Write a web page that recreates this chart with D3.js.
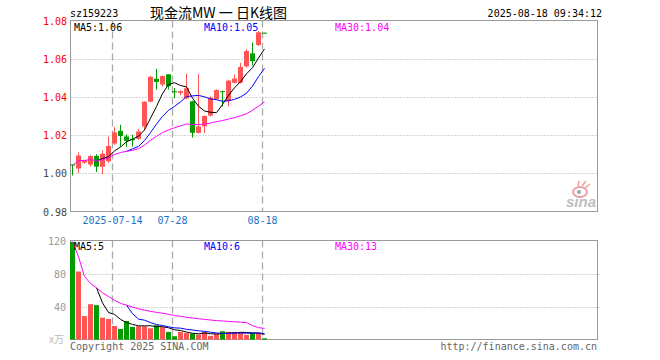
<!DOCTYPE html>
<html>
<head>
<meta charset="utf-8">
<script src="https://cdn.jsdelivr.net/npm/d3@7"></script>
<style>
  body { margin: 0; background: #fff; }
  text { font-family: 'DejaVu Sans Mono', monospace; font-size: 10px; }
</style>
</head>
<body>
<svg width="660" height="360"></svg>
<script>
// daily bars, 2025-07-03 .. 2025-08-18
const dates = ['07-03','07-04','07-07','07-08','07-09','07-10','07-11','07-14','07-15','07-16',
  '07-17','07-18','07-21','07-22','07-23','07-24','07-25','07-28','07-29','07-30','07-31',
  '08-01','08-04','08-05','08-06','08-07','08-08','08-11','08-12','08-13','08-14','08-15','08-18'];
const opens  = [1.0046,1.0025,1.0056,1.0046,1.0091,1.0034,1.0063,1.0156,1.0222,1.0193,1.0180,
  1.0181,1.0245,1.0375,1.0495,1.0465,1.0518,1.0430,1.0421,1.0392,1.0377,1.0212,1.0246,1.0302,
  1.0388,1.0430,1.0378,1.0474,1.0474,1.0560,1.0628,1.0672,1.0736];
const highs  = [1.0046,1.0110,1.0072,1.0095,1.0100,1.0120,1.0192,1.0243,1.0254,1.0204,1.0202,
  1.0233,1.0377,1.0510,1.0547,1.0512,1.0518,1.0446,1.0434,1.0522,1.0380,1.0520,1.0303,1.0403,
  1.0440,1.0433,1.0490,1.0517,1.0578,1.0650,1.0685,1.0745,1.0736];
const lows   = [0.9989,1.0001,1.0050,1.0035,1.0007,0.9997,1.0053,1.0149,1.0140,1.0138,1.0140,
  1.0175,1.0226,1.0372,1.0438,1.0456,1.0439,1.0393,1.0408,1.0388,1.0187,1.0209,1.0210,1.0298,
  1.0385,1.0350,1.0350,1.0470,1.0470,1.0553,1.0565,1.0665,1.0734];
const closes = [1.0041,1.0093,1.0067,1.0090,1.0035,1.0102,1.0143,1.0214,1.0195,1.0170,1.0173,
  1.0219,1.0375,1.0505,1.0478,1.0509,1.0456,1.0424,1.0430,1.0445,1.0212,1.0245,1.0300,1.0395,
  1.0436,1.0426,1.0485,1.0496,1.0557,1.0640,1.0587,1.0738,1.0735];
// volume, 万
const volumes = [118.4,82.4,28.4,42.8,41.6,26.4,24.8,16.4,12.8,22.4,15.2,16,16,13.6,17.2,15,
  9.2,4,9.2,8,7.2,6,9.2,4.4,6.8,10,9.2,9.2,8.4,5.6,8,8,1.5];

const priceTicks = [0.98,1.00,1.02,1.04,1.06,1.08];
const priceTickColors = ['#444','#444','#f00','#f00','#f00','#f00'];
const volTicks = [40,80,120];
const dateTicks = ['07-14','07-28','08-18'];
const dateTickLabels = ['2025-07-14','07-28','08-18'];
const maPeriods = [5,10,30];
const maColors = ['#000','#00f','#f0f'];
const priceMaLabels = ['MA5:1.06','MA10:1.05','MA30:1.04'];
const volMaLabels = ['MA5:5','MA10:6','MA30:13'];

const up = '#ff5555';
const down = '#009c00';

const svg = d3.select('svg');

const left = 70.5, right = 597.5;

const x = d3.scalePoint()
    .domain(dates)
    .range([72.5, 264.5]);

const y = d3.scaleLinear()
    .domain([0.98, 1.08])
    .range([211.5, 20.5]);

const yv = d3.scaleLinear()
    .domain([0, 120])
    .range([339.5, 240.5]);

const px = v => Math.round(v) + 0.5;

// moving average; the 30 day one runs as a cumulative mean until 30 days exist
function ma(values, n) {
  return values.map((v, i) => {
    if (i < n - 1 && n < 30) return null;
    const s = values.slice(Math.max(0, i - n + 1), i + 1);
    return d3.mean(s);
  });
}

// ---------- header ----------
svg.append('text')
    .attr('x', 70).attr('y', 17)
    .text('sz159223');

svg.append('text')
    .attr('x', 150).attr('y', 18)
    .style('font-family', '"Noto Sans CJK SC", sans-serif')
    .style('font-size', '14px')
    .text('现金流MW 一 日K线图');

svg.append('text')
    .attr('x', 602).attr('y', 17)
    .attr('text-anchor', 'end')
    .text('2025-08-18 09:34:12');

// ---------- grid ----------
const gridG = svg.append('g');

gridG.selectAll('.hgrid')
  .data(priceTicks.slice(1, -1))
  .enter().append('line')
    .attr('x1', left).attr('x2', right)
    .attr('y1', d => px(y(d))).attr('y2', d => px(y(d)))
    .attr('stroke', '#aaa')
    .attr('stroke-dasharray', '1,2');

gridG.selectAll('.vgrid')
  .data(volTicks.slice(0, -1))
  .enter().append('line')
    .attr('x1', left).attr('x2', right + 2)
    .attr('y1', d => px(yv(d))).attr('y2', d => px(yv(d)))
    .attr('stroke', '#aaa')
    .attr('stroke-dasharray', '1,2');

dateTicks.forEach(d => {
  [[y.range()[1], y.range()[0]], [yv.range()[1], yv.range()[0]]].forEach(r => {
    gridG.append('line')
        .attr('x1', x(d) - 2).attr('x2', x(d) - 2)
        .attr('y1', r[0]).attr('y2', r[1])
        .attr('stroke', '#aaa')
        .attr('stroke-width', 1.3)
        .attr('stroke-dasharray', '7,4');
  });
});

// frames
svg.append('rect')
    .attr('x', left).attr('y', y.range()[1])
    .attr('width', right - left).attr('height', y.range()[0] - y.range()[1])
    .attr('fill', 'none').attr('stroke', '#999');

svg.append('rect')
    .attr('x', left).attr('y', yv.range()[1])
    .attr('width', right - left).attr('height', yv.range()[0] - yv.range()[1])
    .attr('fill', 'none').attr('stroke', '#999');

// ---------- axis labels ----------
svg.selectAll('.ptick')
  .data(priceTicks)
  .enter().append('text')
    .attr('x', 67)
    .attr('y', d => y(d) + 4)
    .attr('text-anchor', 'end')
    .attr('fill', (d, i) => priceTickColors[i])
    .text(d => d.toFixed(2));

svg.selectAll('.vtick')
  .data(volTicks)
  .enter().append('text')
    .attr('x', 66)
    .attr('y', d => yv(d) + 4)
    .attr('text-anchor', 'end')
    .attr('fill', '#999')
    .text(d => d);

svg.append('text')
    .attr('x', 49).attr('y', 343)
    .attr('fill', '#bbb')
    .style('font-family', '"Noto Sans CJK SC", sans-serif')
    .text('x万');

svg.selectAll('.dtick')
  .data(dateTicks)
  .enter().append('text')
    .attr('x', d => x(d) - 2)
    .attr('y', 224)
    .attr('text-anchor', 'middle')
    .attr('fill', '#1a72c4')
    .text((d, i) => dateTickLabels[i]);

// ---------- candles ----------
const candleG = svg.append('g');
const isUp = i => closes[i] >= opens[i];

candleG.selectAll('.wick')
  .data(dates)
  .enter().append('line')
    .attr('x1', d => x(d)).attr('x2', d => x(d))
    .attr('y1', (d, i) => y(highs[i]))
    .attr('y2', (d, i) => y(lows[i]))
    .attr('stroke', (d, i) => isUp(i) ? up : down);

candleG.selectAll('.body')
  .data(dates)
  .enter().append('rect')
    .attr('x', d => x(d) - 2.5)
    .attr('width', 5)
    .attr('y', (d, i) => y(Math.max(opens[i], closes[i])))
    .attr('height', (d, i) => Math.max(1, Math.abs(y(opens[i]) - y(closes[i]))))
    .attr('fill', (d, i) => isUp(i) ? up : down);

// ---------- volume bars ----------
svg.append('g').selectAll('rect')
  .data(dates)
  .enter().append('rect')
    .attr('x', d => x(d) - 2.5)
    .attr('width', 5)
    .attr('y', (d, i) => yv(volumes[i]))
    .attr('height', (d, i) => yv(0) - yv(volumes[i]))
    .attr('fill', (d, i) => isUp(i) ? up : down);

// ---------- moving averages ----------
maPeriods.forEach((n, k) => {
  const line = d3.line()
      .defined(d => d != null)
      .x((d, i) => x(dates[i]));

  svg.append('path')
      .attr('d', line.y(d => y(d))(ma(closes, n)))
      .attr('fill', 'none')
      .attr('stroke', maColors[k]);

  svg.append('path')
      .attr('d', line.y(d => yv(d))(ma(volumes, n)))
      .attr('fill', 'none')
      .attr('stroke', maColors[k]);
});

// legend
const legendX = [74, 204, 335];
maPeriods.forEach((n, k) => {
  svg.append('text')
      .attr('x', legendX[k]).attr('y', 31)
      .attr('fill', maColors[k])
      .text(priceMaLabels[k]);
  svg.append('text')
      .attr('x', legendX[k]).attr('y', 250)
      .attr('fill', maColors[k])
      .text(volMaLabels[k]);
});

// ---------- footer ----------
svg.append('text')
    .attr('x', 70).attr('y', 350)
    .attr('fill', '#666')
    .text('Copyright 2025 SINA.COM');

svg.append('text')
    .attr('x', 597).attr('y', 350)
    .attr('text-anchor', 'end')
    .attr('fill', '#666')
    .text('http://finance.sina.com.cn');

// sina watermark
const logo = svg.append('g')
    .attr('transform', 'translate(566,184)')
    .attr('opacity', 0.55);

logo.append('ellipse')
    .attr('cx', 14).attr('cy', 8)
    .attr('rx', 7).attr('ry', 5)
    .attr('fill', 'none')
    .attr('stroke', '#e05050')
    .attr('stroke-width', 2);

logo.append('circle')
    .attr('cx', 13).attr('cy', 8)
    .attr('r', 2)
    .attr('fill', '#555');

logo.append('path')
    .attr('d', 'M16,2 L20,-3 M12,2 L13,-3 M19,4 L24,0')
    .attr('stroke', '#e05050')
    .attr('stroke-width', 1.5);

logo.append('text')
    .attr('x', 0).attr('y', 23)
    .attr('fill', '#888')
    .style('font-family', 'Arial, "Liberation Sans", sans-serif')
    .style('font-size', '15px')
    .style('font-style', 'italic')
    .style('font-weight', 'bold')
    .text('sina');
</script>
</body>
</html>
